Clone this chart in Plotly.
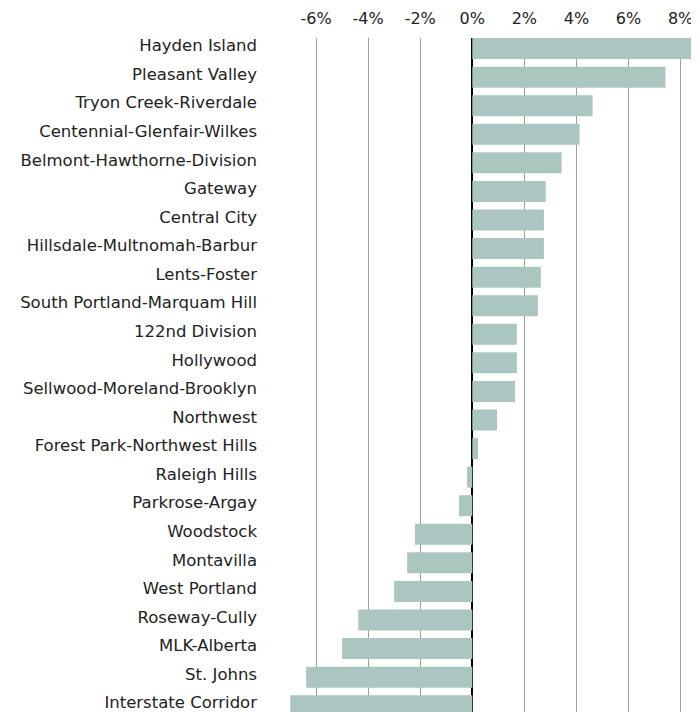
import plotly.graph_objects as go

neighborhoods = [
    "Hayden Island",
    "Pleasant Valley",
    "Tryon Creek-Riverdale",
    "Centennial-Glenfair-Wilkes",
    "Belmont-Hawthorne-Division",
    "Gateway",
    "Central City",
    "Hillsdale-Multnomah-Barbur",
    "Lents-Foster",
    "South Portland-Marquam Hill",
    "122nd Division",
    "Hollywood",
    "Sellwood-Moreland-Brooklyn",
    "Northwest",
    "Forest Park-Northwest Hills",
    "Raleigh Hills",
    "Parkrose-Argay",
    "Woodstock",
    "Montavilla",
    "West Portland",
    "Roseway-Cully",
    "MLK-Alberta",
    "St. Johns",
    "Interstate Corridor",
]

# percent change
change_pct = [
    8.9, 7.42, 4.62, 4.12, 3.43, 2.82, 2.75, 2.75, 2.63, 2.52, 1.71, 1.71,
    1.64, 0.95, 0.22, -0.2, -0.51, -2.2, -2.5, -3.0, -4.38, -5.0, -6.38, -6.99,
]

x_ticks = [-6, -4, -2, 0, 2, 4, 6, 8]
x_tick_labels = [f"{t}%" for t in x_ticks]

BAR_COLOR = "#abc6c1"
TEXT_COLOR = "#222222"
FONT = "DejaVu Sans, Verdana, sans-serif"

fig = go.Figure(
    go.Bar(
        x=change_pct,
        y=list(range(len(neighborhoods))),
        orientation="h",
        marker_color=BAR_COLOR,
        marker_line_width=0,
        hoverinfo="skip",
    )
)

# the page body adds an 8px offset, so the figure is sized to sit inside the window
fig.update_layout(
    width=691,
    height=704,
    margin={"l": 256, "r": 2, "t": 30, "b": 0, "autoexpand": False},
    paper_bgcolor="white",
    plot_bgcolor="white",
    bargap=0.265,
    showlegend=False,
    font={"family": FONT, "color": TEXT_COLOR},
)

fig.update_xaxes(
    side="top",
    range=[-8.0, 8.63],
    tickvals=x_ticks,
    ticktext=x_tick_labels,
    tickfont={"size": 16, "color": TEXT_COLOR},
    showgrid=True,
    gridcolor="#9c9c9c",
    gridwidth=1,
    zeroline=True,
    zerolinecolor="#000000",
    zerolinewidth=2,
    showline=False,
    ticks="",
    ticklabelstandoff=10,
    ticklabeloverflow="allow",
    automargin=False,
)

fig.update_yaxes(
    range=[23.22, -0.37],
    tickvals=list(range(len(neighborhoods))),
    ticktext=neighborhoods,
    tickfont={"size": 16.5, "color": TEXT_COLOR},
    showgrid=False,
    zeroline=False,
    showline=False,
    ticks="",
    ticklabelstandoff=6,
    ticklabelshift=3,
    ticklabeloverflow="allow",
    automargin=False,
)

fig.write_html("out.html")
